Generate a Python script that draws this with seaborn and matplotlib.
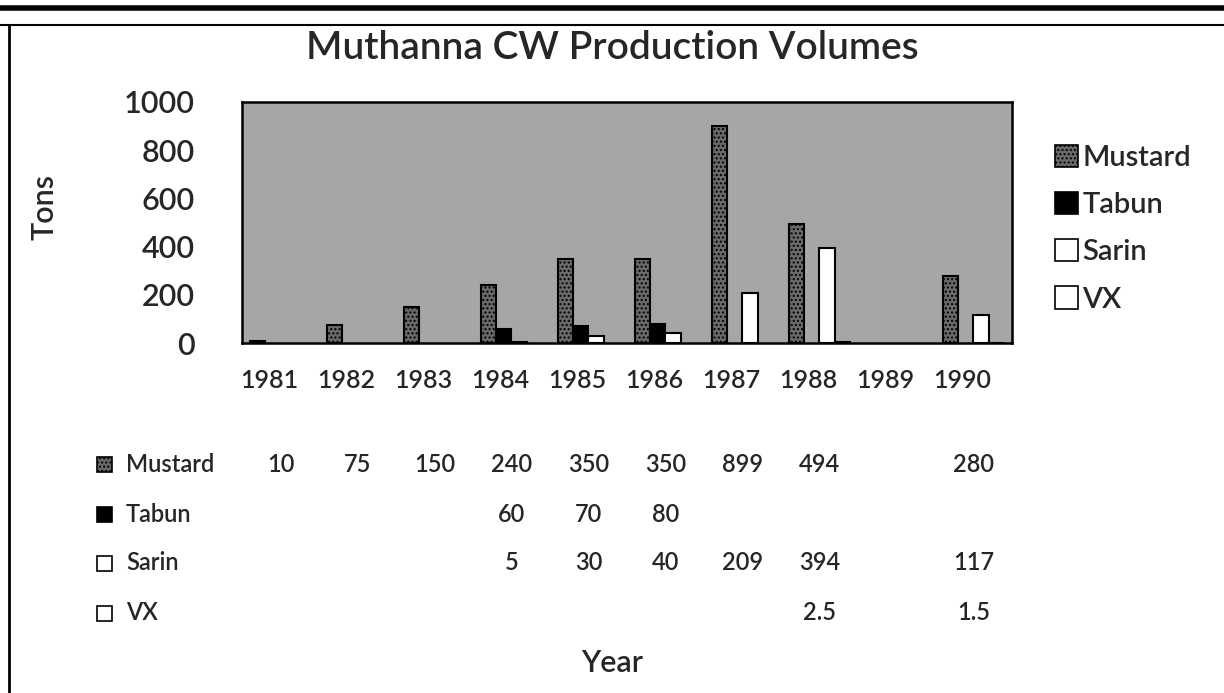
import numpy as np
import pandas as pd
import matplotlib
matplotlib.use('Agg')
import matplotlib.pyplot as plt
import matplotlib.transforms as mtransforms
from matplotlib.lines import Line2D
from matplotlib.patches import Patch, Rectangle
import seaborn as sns

# Data (tons per year)
years = ['1981', '1982', '1983', '1984', '1985', '1986', '1987', '1988', '1989', '1990']
agents = ['Mustard', 'Tabun', 'Sarin', 'VX']
mustard = [10, 75, 150, 240, 350, 350, 899, 494, np.nan, 280]
tabun = [np.nan, np.nan, np.nan, 60, 70, 80, np.nan, np.nan, np.nan, np.nan]
sarin = [np.nan, np.nan, np.nan, 5, 30, 40, 209, 394, np.nan, 117]
vx = [np.nan, np.nan, np.nan, np.nan, np.nan, np.nan, np.nan, 2.5, np.nan, 1.5]
yticks = [0, 200, 400, 600, 800, 1000]

series = {'Mustard': mustard, 'Tabun': tabun, 'Sarin': sarin, 'VX': vx}
colors = {'Mustard': '#6a6a6a', 'Tabun': 'black', 'Sarin': 'white', 'VX': 'white'}

# long-form table for seaborn
rows = []
for a in agents:
    for y, v in zip(years, series[a]):
        rows.append({'Year': y, 'Agent': a, 'Tons': v})
df = pd.DataFrame(rows)

sns.set_style('white')
plt.rcParams['font.family'] = ['Lato', 'DejaVu Sans']
plt.rcParams['font.weight'] = 'semibold'
plt.rcParams['hatch.color'] = '#3a3a3a'
plt.rcParams['hatch.linewidth'] = 1.0

fig = plt.figure(figsize=(12.24, 6.93), dpi=100)
ax = fig.add_axes([0.1977, 0.505, 0.629, 0.348])
ax.set_facecolor('#a6a6a6')

sns.barplot(data=df.dropna(), x='Year', y='Tons', hue='Agent', order=years,
            hue_order=agents, palette=colors, saturation=1, errorbar=None,
            edgecolor='black', linewidth=1.5, legend=False, ax=ax)

# speckled look on the mustard bars
for bar in ax.containers[0]:
    bar.set_hatch('....')

ax.set_ylim(0, 1000)
ax.set_yticks(yticks)
ax.set_yticklabels([str(t) for t in yticks], fontsize=22)
ax.tick_params(axis='y', length=0, pad=34)
ax.set_xticks(np.arange(len(years)) - 0.15)
ax.set_xticklabels(years, fontsize=18)
ax.tick_params(axis='x', length=0, pad=19)
ax.set_xlim(-0.5, len(years) - 0.5)
ax.set_xlabel('')
ax.set_ylabel('')
for s in ax.spines.values():
    s.set_visible(True)
    s.set_color('black')
    s.set_linewidth(1.8)

# titles
fig.text(612 / 1224, 1 - 48 / 693, 'Muthanna CW Production Volumes', ha='center', va='center', fontsize=28)
fig.text(44 / 1224, 1 - 207 / 693, 'Tons', ha='center', va='center', rotation=90, fontsize=22)
fig.text(612 / 1224, 1 - 663 / 693, 'Year', ha='center', va='center', fontsize=22)

# legend
handles = []
for a in agents:
    p = Patch(facecolor=colors[a], edgecolor='black', linewidth=1.2)
    if a == 'Mustard':
        p.set_hatch('....')
    handles.append(p)
fig.legend(handles, agents, loc='upper left', bbox_to_anchor=(1040 / 1224, 1 - 130 / 693),
           frameon=False, fontsize=21, handlelength=0.8, handleheight=0.8,
           handletextpad=0.15, labelspacing=0.72, borderpad=0)

# data table below the chart
trans = mtransforms.blended_transform_factory(ax.transData, fig.transFigure)
row_y = [464, 514, 563, 613]
for a, ypx in zip(agents, row_y):
    yf = 1 - ypx / 693
    rect = Rectangle((97 / 1224, yf - 8 / 693), 15 / 1224, 15 / 693,
                     transform=fig.transFigure, facecolor=colors[a],
                     edgecolor='black', linewidth=1.2)
    if a == 'Mustard':
        rect.set_hatch('....')
    fig.patches.append(rect)
    fig.text(126 / 1224, yf, a, ha='left', va='center', fontsize=17)
    for i, v in enumerate(series[a]):
        if np.isnan(v):
            continue
        label = str(int(v)) if float(v).is_integer() else str(v)
        ax.text(i, yf, label, transform=trans, ha='center', va='center', fontsize=17)

# page frame lines
fig.add_artist(Line2D([0, 1], [1 - 8 / 693, 1 - 8 / 693], color='black', linewidth=4))
fig.add_artist(Line2D([0, 1], [1 - 25 / 693, 1 - 25 / 693], color='black', linewidth=1.5))
fig.add_artist(Line2D([9 / 1224, 9 / 1224], [0, 1 - 25 / 693], color='black', linewidth=2))

fig.savefig('out.png', dpi=100)
